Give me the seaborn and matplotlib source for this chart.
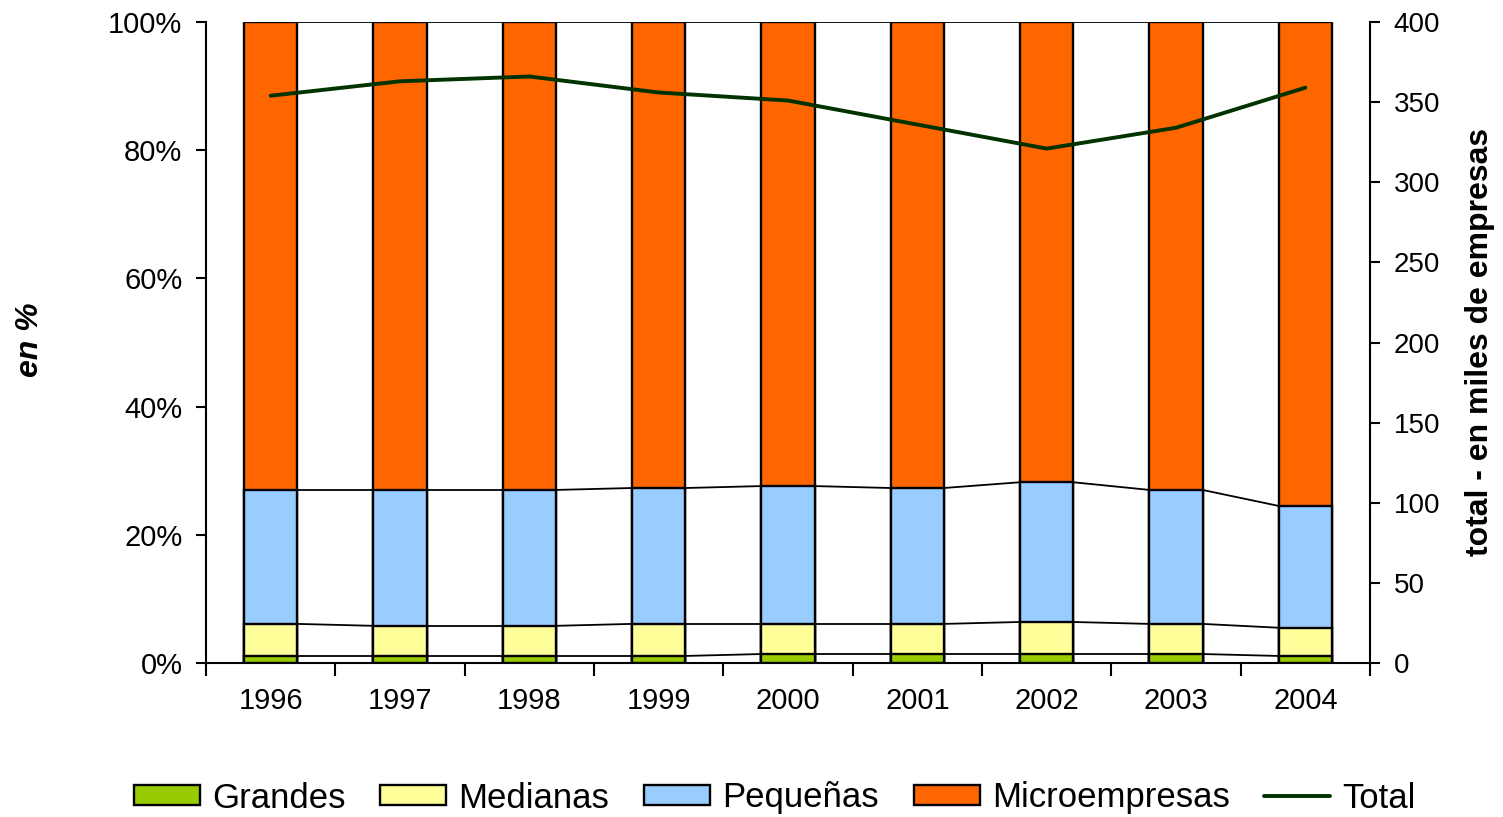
import numpy as np
import pandas as pd
import matplotlib
matplotlib.use('Agg')
import matplotlib.pyplot as plt
from matplotlib.patches import Patch
from matplotlib.lines import Line2D
import seaborn as sns

# datos (porcentaje por tamaño de empresa)
years = ['1996', '1997', '1998', '1999', '2000', '2001', '2002', '2003', '2004']
grandes = [1.1, 1.1, 1.1, 1.1, 1.4, 1.4, 1.4, 1.4, 1.1]
medianas = [5.0, 4.7, 4.7, 5.0, 4.7, 4.7, 5.0, 4.7, 4.4]
pequenas = [20.9, 21.2, 21.2, 21.2, 21.5, 21.2, 21.8, 20.9, 19.0]
total = [354, 363, 366, 356, 351, 336, 321, 334, 359]

series = ['Grandes', 'Medianas', 'Pequeñas', 'Microempresas']
colores = ['#99CC00', '#FFFF99', '#99CCFF', '#FF6600']

df = pd.DataFrame({'year': years, 'Grandes': grandes, 'Medianas': medianas,
                   'Pequeñas': pequenas})
df['Microempresas'] = 100 - df[['Grandes', 'Medianas', 'Pequeñas']].sum(axis=1)
cum = df[series].cumsum(axis=1)

sns.set_theme(style='white')
plt.rcParams['font.family'] = ['Liberation Sans', 'DejaVu Sans']
plt.rcParams['text.color'] = 'black'
plt.rcParams['xtick.color'] = 'black'
plt.rcParams['ytick.color'] = 'black'
plt.rcParams['axes.labelcolor'] = 'black'

fig = plt.figure(figsize=(15.03, 8.17), dpi=100)
ax = fig.add_axes([206/1503, 1-663/817, 1164/1503, 641/817])
ancho = 0.41

# barras apiladas: de la mas alta a la mas baja
for s, c in reversed(list(zip(series, colores))):
    sns.barplot(x=df['year'], y=cum[s], color=c, saturation=1, width=ancho,
                edgecolor='black', linewidth=1.7, ax=ax)

# lineas de serie entre barras
for s in series:
    v = cum[s].values
    for i in range(len(years) - 1):
        ax.plot([i + ancho/2, i + 1 - ancho/2], [v[i], v[i+1]], color='black', lw=1.3, zorder=1)

ax.set_ylim(0, 100)
ax.set_xlim(-0.5, len(years) - 0.5)
ax.set_yticks(np.arange(0, 101, 20))
ax.set_yticklabels([f'{t}%' for t in range(0, 101, 20)])
ax.set_xlabel('')
ax.set_ylabel('')
ax.set_xticks(range(len(years)))
ax.set_xticklabels(years)
ax.set_xticks(np.arange(-0.5, len(years)), minor=True)
ax.tick_params(axis='x', which='major', length=0, pad=17, labelsize=21)
ax.tick_params(axis='x', which='minor', length=9, width=1.5, direction='out', color='black', bottom=True)
ax.tick_params(axis='y', length=7, width=1.5, direction='out', color='black', left=True, labelsize=21, pad=10)
for sp in ['top', 'right']:
    ax.spines[sp].set_visible(False)
for sp in ['left', 'bottom']:
    ax.spines[sp].set_color('black')
    ax.spines[sp].set_linewidth(1.5)

ax2 = ax.twinx()
sns.lineplot(x=np.arange(len(years)), y=total, color='#003300', lw=2.8, ax=ax2)
ax2.set_ylim(0, 400)
ax2.set_xlim(-0.5, len(years) - 0.5)
ax2.set_yticks(np.arange(0, 401, 50))
ax2.tick_params(axis='y', length=7, width=1.5, direction='out', color='black', right=True, labelsize=20, pad=10)
ax2.spines['top'].set_visible(False)
ax2.spines['left'].set_visible(False)
ax2.spines['bottom'].set_visible(False)
ax2.spines['right'].set_color('black')
ax2.spines['right'].set_linewidth(1.5)
ax2.set_ylabel('')

fig.text(30/1503, 1-340/817, 'en %', rotation=90, ha='center', va='center',
         fontsize=23, fontweight='bold', fontstyle='italic')
fig.text(1480/1503, 1-342/817, 'total - en miles de empresas', rotation=90,
         ha='center', va='center', fontsize=23, fontweight='bold')

handles = [Patch(facecolor=c, edgecolor='black', linewidth=1.7) for c in colores]
handles.append(Line2D([0], [0], color='#003300', lw=2.8))
fig.legend(handles, series + ['Total'], loc='center', bbox_to_anchor=(775/1503, 1-798/817),
           ncol=5, frameon=False, fontsize=25, handlelength=1.9, handleheight=0.5,
           handletextpad=0.35, columnspacing=1.0)

fig.savefig('out.png', dpi=100)
